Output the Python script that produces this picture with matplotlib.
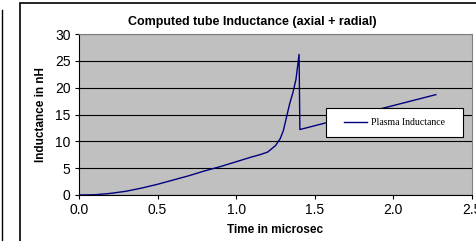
import matplotlib.pyplot as plt
from matplotlib.patches import Rectangle

time_us = [0.0, 0.1, 0.2, 0.3, 0.4, 0.5, 0.6, 0.7, 0.8, 0.9, 1.0, 1.1, 1.15, 1.2,
           1.25, 1.28, 1.30, 1.32, 1.34, 1.36, 1.38, 1.40, 1.405, 2.27]
inductance_nH = [0.0, 0.05, 0.3, 0.7, 1.3, 2.0, 2.8, 3.6, 4.5, 5.3, 6.2, 7.1, 7.5, 8.0,
                 9.2, 10.5, 12.0, 14.5, 17.0, 19.0, 21.5, 26.2, 12.2, 18.7]

W, H = 477, 241
fig = plt.figure(figsize=(W / 100, H / 100), dpi=100)
plt.rcParams['font.family'] = ['Liberation Sans', 'DejaVu Sans']

# outer chart frame
fig.patches.append(Rectangle((20 / W, -0.1), 1.2, 1 - 3 / H + 0.1,
                             transform=fig.transFigure, fill=False, edgecolor='black',
                             linewidth=1.2))
fig.lines.append(plt.Line2D([2 / W, 2 / W], [0, 1 - 10 / H], transform=fig.transFigure,
                            color='black', linewidth=1.0))

ax_l, ax_b, ax_w, ax_h = 79, 195, 393, 161
ax = fig.add_axes([ax_l / W, (H - ax_b) / H, ax_w / W, ax_h / H])
ax.set_facecolor('#C0C0C0')
ax.plot(time_us, inductance_nH, color='#000080', linewidth=1.0, label='Plasma Inductance')

ax.set_xlim(0, 2.5)
ax.set_ylim(0, 30)
ax.set_xticks([0.0, 0.5, 1.0, 1.5, 2.0, 2.5])
ax.set_xticklabels(['0.0', '0.5', '1.0', '1.5', '2.0', '2.5'])
ax.set_yticks(range(0, 31, 5))
ax.yaxis.grid(True, color='black', linewidth=0.8)
ax.set_axisbelow(True)
ax.tick_params(labelsize=10, direction='out', length=3, width=0.8, pad=3)

for side in ['top', 'right']:
    ax.spines[side].set_color('#808080')
    ax.spines[side].set_linewidth(0.8)
ax.spines['left'].set_linewidth(0.8)
ax.spines['bottom'].set_linewidth(0.8)

ax.set_xlabel('Time in microsec', fontsize=8.5, fontweight='bold', labelpad=5)
ax.set_ylabel('Inductance in nH', fontsize=8.5, fontweight='bold', labelpad=6)
fig.text(252 / W, 1 - 22 / H, 'Computed tube Inductance (axial + radial)',
         fontsize=9, fontweight='bold', ha='center', va='center')

# legend box (white, black edge) drawn separately so it can be wider than the legend
bx0, by0, bx1, by1 = 326, 108, 463, 137
ax.add_patch(Rectangle(((bx0 - ax_l) / ax_w, (ax_b - by1) / ax_h),
                       (bx1 - bx0) / ax_w, (by1 - by0) / ax_h,
                       transform=ax.transAxes, facecolor='white', edgecolor='black',
                       linewidth=0.8, zorder=4))
leg = ax.legend(loc='center',
                bbox_to_anchor=(((bx0 + bx1) / 2 - ax_l) / ax_w, (ax_b - (by0 + by1) / 2) / ax_h),
                prop={'family': 'Liberation Serif', 'size': 7}, frameon=False,
                handlelength=2.4, handletextpad=0.4, borderaxespad=0)
leg.set_zorder(5)

plt.savefig('out.png', dpi=100)
